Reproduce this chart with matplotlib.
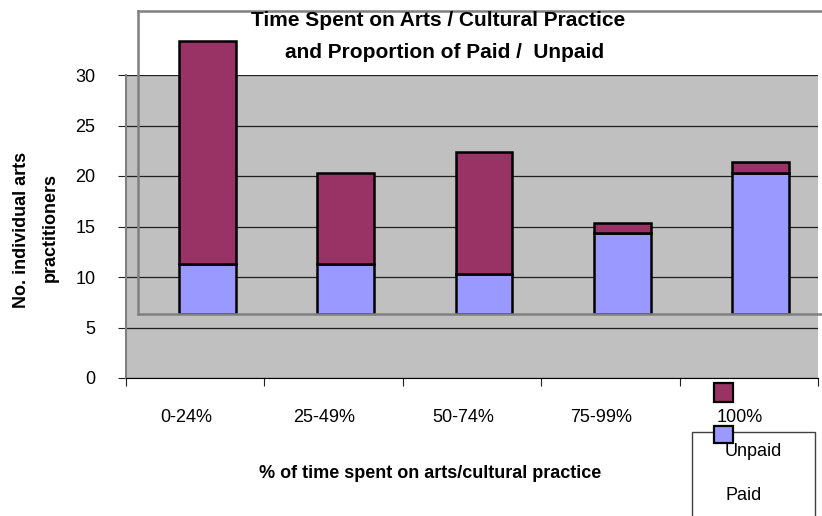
import matplotlib
matplotlib.use('Agg')
import matplotlib.pyplot as plt
from matplotlib.patches import Rectangle
from matplotlib.transforms import ScaledTranslation

plt.rcParams['font.family'] = ['Liberation Sans', 'DejaVu Sans']

categories = ['0-24%', '25-49%', '50-74%', '75-99%', '100%']
paid = [5, 5, 4, 8, 14]
unpaid = [22, 9, 12, 1, 1]
series_names = ['Unpaid', 'Paid']
yticks = [0, 5, 10, 15, 20, 25, 30]

maroon = '#993366'
blue = '#9999FF'
W, H = 822, 516


def fx(px):
    return px / W


def fy(py):
    return 1 - py / H


fig = plt.figure(figsize=(8.22, 5.16), dpi=100)

# outer (background) axes with the value scale
ax = fig.add_axes([fx(126), fy(378), 692 / W, 303 / H])
ax.set_facecolor('#C0C0C0')
ax.set_xlim(0, len(categories))
ax.set_ylim(0, 30)
ax.set_yticks(yticks)
ax.set_xticks(range(len(categories) + 1))
ax.set_xticklabels([])
ax.set_xticks([i + 0.5 for i in range(len(categories))], minor=True)
ax.set_xticklabels(categories, minor=True, fontsize=13)
ax.tick_params(axis='x', which='minor', length=0, pad=22)
ax.tick_params(axis='x', which='major', length=6, color='#202020')
ax.tick_params(axis='y', length=6, color='#202020', labelsize=13, pad=16)
for lab in ax.get_xticklabels(minor=True):
    lab.set_transform(lab.get_transform() + ScaledTranslation(-9 / 100, 0, fig.dpi_scale_trans))
ax.yaxis.grid(True, color='#202020', linewidth=0.9)
ax.set_axisbelow(True)
for s in ['top', 'right']:
    ax.spines[s].set_visible(False)
ax.spines['left'].set_color('#808080')
ax.spines['left'].set_linewidth(1.5)
ax.spines['bottom'].set_color('black')

# inner (shifted) plot area where the bars sit
ax2 = fig.add_axes([fx(138), fy(314), 692 / W, 303 / H])
ax2.set_facecolor('none')
ax2.set_xlim(0, len(categories))
ax2.set_ylim(0, 30)
ax2.set_xticks([])
ax2.set_yticks([])
for s in ax2.spines.values():
    s.set_color('#808080')
    s.set_linewidth(1.8)
x = [i + 0.5 for i in range(len(categories))]
ax2.bar(x, paid, width=0.41, color=blue, edgecolor='black', linewidth=1.8)
ax2.bar(x, unpaid, width=0.41, bottom=paid, color=maroon, edgecolor='black', linewidth=1.8)

# titles and labels
fig.text(fx(438), fy(20), 'Time Spent on Arts / Cultural Practice', ha='center', va='center',
         fontsize=15, fontweight='bold')
fig.text(fx(445), fy(53), 'and Proportion of Paid /  Unpaid', ha='center', va='center',
         fontsize=15, fontweight='bold')
fig.text(fx(430), fy(474), '% of time spent on arts/cultural practice', ha='center', va='center',
         fontsize=13, fontweight='bold')
fig.text(fx(21), fy(230), 'No. individual arts', ha='center', va='center', rotation=90,
         fontsize=13, fontweight='bold')
fig.text(fx(50), fy(228), 'practitioners', ha='center', va='center', rotation=90,
         fontsize=13, fontweight='bold')

# the (misaligned) legend
fig.add_artist(Rectangle((fx(692), fy(540)), 123 / W, 108 / H, transform=fig.transFigure,
                         facecolor='white', edgecolor='#404040', linewidth=1))
fig.add_artist(Rectangle((fx(714), fy(402)), 19 / W, 19 / H, transform=fig.transFigure,
                         facecolor=maroon, edgecolor='black', linewidth=1.6))
fig.add_artist(Rectangle((fx(714), fy(443)), 19 / W, 17 / H, transform=fig.transFigure,
                         facecolor=blue, edgecolor='black', linewidth=1.6))
fig.text(fx(725), fy(451), series_names[0], ha='left', va='center', fontsize=13)
fig.text(fx(725), fy(495), series_names[1], ha='left', va='center', fontsize=13)

fig.savefig('out.png', dpi=100)
